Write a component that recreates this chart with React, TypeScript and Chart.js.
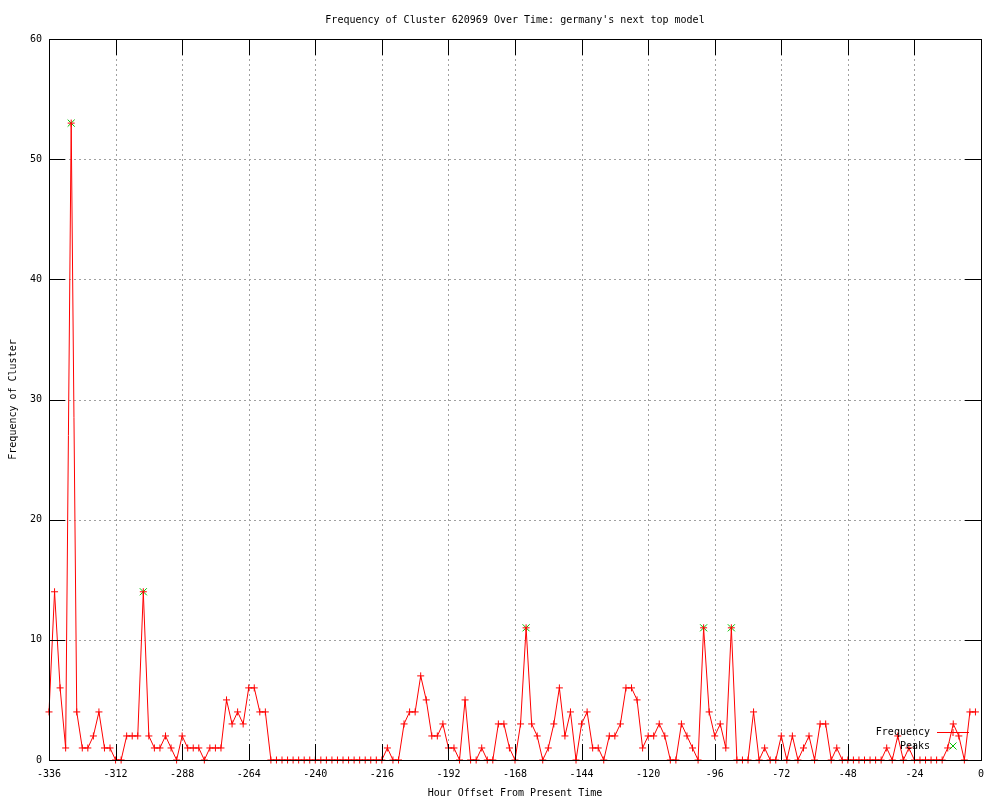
import React, { useEffect, useRef } from 'react';
import { Chart, registerables } from 'chart.js';

Chart.register(...registerables);

const FONT = "'DejaVu Sans Mono', 'Liberation Mono', monospace";

const TITLE = "Frequency of Cluster 620969 Over Time: germany's next top model";
const X_TITLE = 'Hour Offset From Present Time';
const Y_TITLE = 'Frequency of Cluster';

// Hour offsets of each observation
const hours: number[] = [
  -336, -334, -332, -330, -328, -326, -324, -322, -320, -318,
  -316, -314, -312, -310, -308, -306, -304, -302, -300, -298,
  -296, -294, -292, -290, -288, -286, -284, -282, -280, -278,
  -276, -274, -272, -270, -268, -266, -264, -262, -260, -258,
  -256, -254, -252, -250, -248, -246, -244, -242, -240, -238,
  -236, -234, -232, -230, -228, -226, -224, -222, -220, -218,
  -216, -214, -212, -210, -208, -206, -204, -202, -200, -198,
  -196, -194, -192, -190, -188, -186, -184, -182, -180, -178,
  -176, -174, -172, -170, -168, -166, -164, -162, -160, -158,
  -156, -154, -152, -150, -148, -146, -144, -142, -140, -138,
  -136, -134, -132, -130, -128, -126, -124, -122, -120, -118,
  -116, -114, -112, -110, -108, -106, -104, -102, -100, -98,
  -96, -94, -92, -90, -88, -86, -84, -82, -80, -78,
  -76, -74, -72, -70, -68, -66, -64, -62, -60, -58,
  -56, -54, -52, -50, -48, -46, -44, -42, -40, -38,
  -36, -34, -32, -30, -28, -26, -24, -22, -20, -18,
  -16, -14, -12, -10, -8, -6, -4, -2,
];

// Frequency of the cluster at each hour offset
const frequency: number[] = [
  4, 14, 6, 1, 53, 4, 1, 1, 2, 4,
  1, 1, 0, 0, 2, 2, 2, 14, 2, 1,
  1, 2, 1, 0, 2, 1, 1, 1, 0, 1,
  1, 1, 5, 3, 4, 3, 6, 6, 4, 4,
  0, 0, 0, 0, 0, 0, 0, 0, 0, 0,
  0, 0, 0, 0, 0, 0, 0, 0, 0, 0,
  0, 1, 0, 0, 3, 4, 4, 7, 5, 2,
  2, 3, 1, 1, 0, 5, 0, 0, 1, 0,
  0, 3, 3, 1, 0, 3, 11, 3, 2, 0,
  1, 3, 6, 2, 4, 0, 3, 4, 1, 1,
  0, 2, 2, 3, 6, 6, 5, 1, 2, 2,
  3, 2, 0, 0, 3, 2, 1, 0, 11, 4,
  2, 3, 1, 11, 0, 0, 0, 4, 0, 1,
  0, 0, 2, 0, 2, 0, 1, 2, 0, 3,
  3, 0, 1, 0, 0, 0, 0, 0, 0, 0,
  0, 1, 0, 2, 0, 1, 0, 0, 0, 0,
  0, 0, 1, 3, 2, 0, 4, 4,
];

// Detected peaks
const peakHours: number[] = [-328, -302, -164, -100, -90];
const peakValues: number[] = [53, 14, 11, 11, 11];

const X_MIN = -336;
const X_MAX = 0;
const X_STEP = 24;
const Y_MIN = 0;
const Y_MAX = 60;
const Y_STEP = 10;

const RED = '#ff0000';
const GREEN = '#00c000';
const TICK_LEN = 16;

const framePlugin = {
  id: 'gnuplotFrame',
  beforeDatasetsDraw(chart: any) {
    const { ctx, chartArea } = chart;
    const { left, right, top, bottom } = chartArea;
    const xs = chart.scales.x;
    const ys = chart.scales.y;
    ctx.save();
    ctx.strokeStyle = '#a0a0a0';
    ctx.lineWidth = 1;
    ctx.setLineDash([2, 3]);
    ctx.beginPath();
    xs.ticks.forEach((t: any) => {
      const px = Math.round(xs.getPixelForValue(t.value)) + 0.5;
      if (px <= left + 1 || px >= right - 1) return;
      ctx.moveTo(px, top);
      ctx.lineTo(px, bottom);
    });
    ys.ticks.forEach((t: any) => {
      const py = Math.round(ys.getPixelForValue(t.value)) + 0.5;
      if (py <= top + 1 || py >= bottom - 1) return;
      ctx.moveTo(left, py);
      ctx.lineTo(right, py);
    });
    ctx.stroke();
    ctx.restore();
  },
  afterDatasetsDraw(chart: any) {
    const { ctx, chartArea } = chart;
    const { left, right, top, bottom } = chartArea;
    const xs = chart.scales.x;
    const ys = chart.scales.y;
    ctx.save();
    ctx.strokeStyle = '#000000';
    ctx.lineWidth = 1;
    ctx.setLineDash([]);
    ctx.beginPath();
    xs.ticks.forEach((t: any) => {
      const px = Math.round(xs.getPixelForValue(t.value)) + 0.5;
      ctx.moveTo(px, bottom);
      ctx.lineTo(px, bottom - TICK_LEN);
      ctx.moveTo(px, top);
      ctx.lineTo(px, top + TICK_LEN);
    });
    ys.ticks.forEach((t: any) => {
      const py = Math.round(ys.getPixelForValue(t.value)) + 0.5;
      ctx.moveTo(left, py);
      ctx.lineTo(left + TICK_LEN, py);
      ctx.moveTo(right, py);
      ctx.lineTo(right - TICK_LEN, py);
    });
    ctx.stroke();
    ctx.strokeRect(left + 0.5, top + 0.5, right - left, bottom - top);
    ctx.restore();
  },
  afterDraw(chart: any) {
    const { ctx } = chart;
    ctx.save();
    ctx.font = `10px ${FONT}`;
    ctx.fillStyle = '#000';
    ctx.textAlign = 'right';
    ctx.textBaseline = 'middle';
    const textX = 930;
    const row1 = 732.5;
    const row2 = 746;
    ctx.fillText('Frequency', textX, row1);
    ctx.fillText('Peaks', textX, row2);
    // Frequency sample
    ctx.strokeStyle = RED;
    ctx.lineWidth = 1;
    ctx.beginPath();
    ctx.moveTo(937, row1);
    ctx.lineTo(969, row1);
    ctx.moveTo(953, row1 - 3.5);
    ctx.lineTo(953, row1 + 3.5);
    ctx.stroke();
    // Peaks sample
    ctx.strokeStyle = GREEN;
    ctx.beginPath();
    ctx.moveTo(949.5, row2 - 3.5);
    ctx.lineTo(956.5, row2 + 3.5);
    ctx.moveTo(956.5, row2 - 3.5);
    ctx.lineTo(949.5, row2 + 3.5);
    ctx.stroke();
    ctx.restore();
  },
};

export default function App() {
  const canvasRef = useRef<HTMLCanvasElement | null>(null);

  useEffect(() => {
    document.body.style.margin = '0';
    const canvas = canvasRef.current;
    if (!canvas) return;

    const freqData = hours.map((h, i) => ({ x: h, y: frequency[i] }));
    const peakData = peakHours.map((h, i) => ({ x: h, y: peakValues[i] }));

    const chart = new Chart(canvas, {
      type: 'line',
      data: {
        datasets: [
          {
            label: 'Frequency',
            data: freqData,
            borderColor: RED,
            backgroundColor: RED,
            borderWidth: 1,
            pointStyle: 'cross',
            pointRadius: 3.5,
            pointHoverRadius: 3.5,
            pointBorderWidth: 1,
            pointBorderColor: RED,
            pointBackgroundColor: RED,
            tension: 0,
            fill: false,
            clip: false as any,
            order: 0,
          },
          {
            label: 'Peaks',
            data: peakData,
            showLine: false,
            pointStyle: 'crossRot',
            pointRadius: 5,
            pointHoverRadius: 5,
            pointBorderWidth: 1,
            pointBorderColor: GREEN,
            pointBackgroundColor: GREEN,
            borderColor: GREEN,
            backgroundColor: GREEN,
            clip: false as any,
            order: 1,
          },
        ],
      },
      options: {
        responsive: false,
        devicePixelRatio: 1,
        animation: false,
        events: [],
        layout: { padding: { left: 0, right: 19, top: 0, bottom: 0 } },
        plugins: {
          legend: { display: false },
          tooltip: { enabled: false },
          title: {
            display: true,
            text: TITLE,
            color: '#000',
            fullSize: false,
            font: { family: FONT, size: 10, weight: 'normal', lineHeight: 1.2 },
            padding: { top: 14, bottom: 13 },
          },
        },
        scales: {
          x: {
            type: 'linear',
            min: X_MIN,
            max: X_MAX,
            grid: { display: false, drawTicks: false },
            border: { display: false },
            ticks: {
              stepSize: X_STEP,
              autoSkip: false,
              maxRotation: 0,
              padding: 8,
              color: '#000',
              font: { family: FONT, size: 10 },
            },
            title: {
              display: true,
              text: X_TITLE,
              color: '#000',
              font: { family: FONT, size: 10, lineHeight: 1.2 },
              padding: { top: 0, bottom: 1 },
            },
            afterFit(scale: any) {
              scale.height = 40;
            },
          },
          y: {
            type: 'linear',
            min: Y_MIN,
            max: Y_MAX,
            grid: { display: false, drawTicks: false },
            border: { display: false },
            ticks: {
              stepSize: Y_STEP,
              padding: 7,
              color: '#000',
              font: { family: FONT, size: 10 },
            },
            title: {
              display: true,
              text: Y_TITLE,
              color: '#000',
              font: { family: FONT, size: 10, lineHeight: 1.2 },
              padding: { top: 7, bottom: 0 },
            },
            afterFit(scale: any) {
              scale.width = 49;
            },
          },
        },
      },
      plugins: [framePlugin],
    });

    return () => {
      chart.destroy();
    };
  }, []);

  return (
    <div style={{ width: 1000, height: 800, background: '#fff' }}>
      <canvas ref={canvasRef} width={1000} height={800} style={{ display: 'block' }} />
    </div>
  );
}
